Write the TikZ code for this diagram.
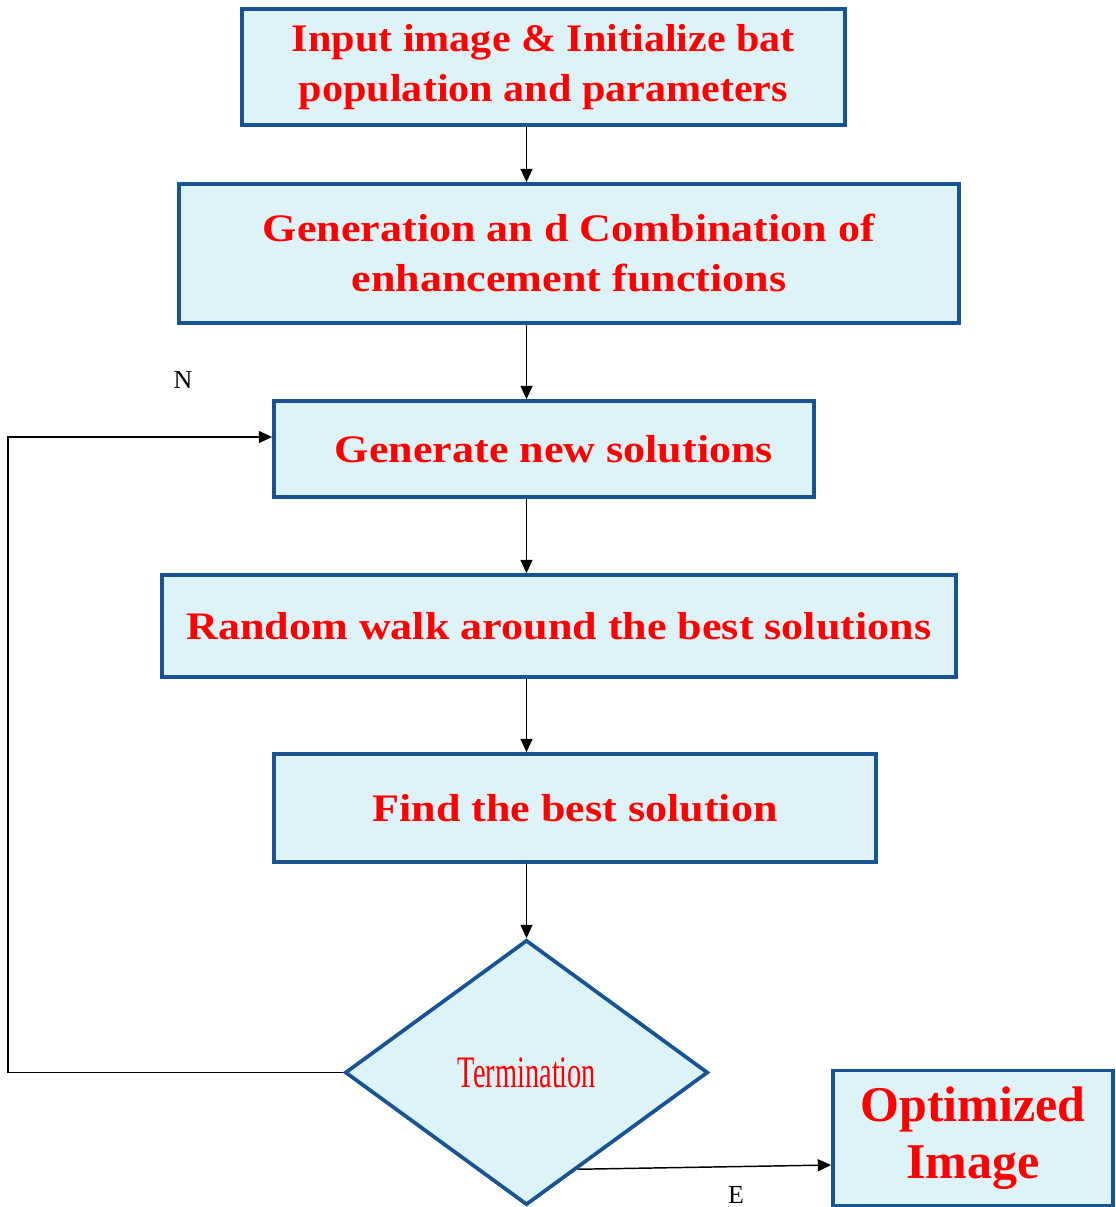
\documentclass[tikz,border=0pt]{standalone}
\usepackage{fontspec}
\usepackage{graphicx}
\setmainfont{Liberation Serif}
\newfontfamily\boxfont{Liberation Serif}[FakeStretch=1.13]
\newfontfamily\boxfontA{Liberation Serif}[FakeStretch=1.08]
\usetikzlibrary{shapes.geometric,arrows.meta,calc}
\definecolor{boxfill}{RGB}{221,243,248}
\definecolor{boxline}{RGB}{24,84,147}
\definecolor{txtred}{RGB}{255,0,0}
\begin{document}
\begin{tikzpicture}[x=0.75pt,y=-0.75pt,
  stepbox/.style={draw=boxline,line width=2.8pt,fill=boxfill,rectangle,inner sep=0pt,
    align=center,text=txtred,font=\boxfont\bfseries\fontsize{29.25pt}{37.5pt}\selectfont},
  decide/.style={draw=boxline,line width=2.8pt,fill=boxfill,diamond,inner sep=0pt,
    minimum width=272.25pt,minimum height=198.75pt,text=txtred},
  conn/.style={line width=1.1pt,draw=black},
  arr/.style={conn,-{Triangle[length=10pt,width=9pt]}},
  lbl/.style={font=\fontsize{19.5pt}{22pt}\selectfont,text=black}]
\useasboundingbox (0,0) rectangle (1115,1207);
\node[stepbox,minimum width=452.25pt,minimum height=87pt,
  font=\boxfontA\bfseries\fontsize{29.25pt}{37.5pt}\selectfont] (b1) at (543.5,67)
  {Input image \& Initialize bat\\population and parameters};
\node[stepbox,minimum width=585pt,minimum height=104.25pt] (b2) at (569,253.5)
  {Generation an d Combination of\\enhancement functions};
\node[stepbox,minimum width=405pt,minimum height=72pt] (b3) at (544,449)
  {\hspace*{15pt}Generate new solutions};
\node[stepbox,minimum width=595.5pt,minimum height=76.5pt] (b4) at (559,626)
  {Random walk around the best solutions};
\node[stepbox,minimum width=451.5pt,minimum height=81pt] (b5) at (575,808)
  {Find the best solution};
\node[decide] (dia) at (526.5,1072.5) {};
\node[text=txtred,font=\fontsize{33.75pt}{36pt}\selectfont] (term) at (527,1073)
  {\scalebox{0.63}[1]{Termination}};
\node[stepbox,minimum width=210pt,minimum height=101.25pt,
  font=\bfseries\fontsize{37.5pt}{42.75pt}\selectfont] (opt) at (973,1138)
  {Optimized\\Image};
\draw[arr] (b1.south -| dia.north) -- (dia.north |- b2.north);
\draw[arr] (b2.south -| dia.north) -- (dia.north |- b3.north);
\draw[arr] (b3.south -| dia.north) -- (dia.north |- b4.north);
\draw[arr] (b4.south -| dia.north) -- (dia.north |- b5.north);
\draw[arr] (b5.south -| dia.north) -- (dia.north);
\draw[arr] (dia.west) -- ++(-335,0) |- ([yshift=9pt]b3.west);
\draw[arr] ($(dia.south)!0.28!(dia.east)$) -- ([yshift=-20.25pt]opt.west);
\node[lbl] (n) at (183,380) {N};
\node[lbl] (e) at (736,1195) {E};
\end{tikzpicture}
\end{document}
